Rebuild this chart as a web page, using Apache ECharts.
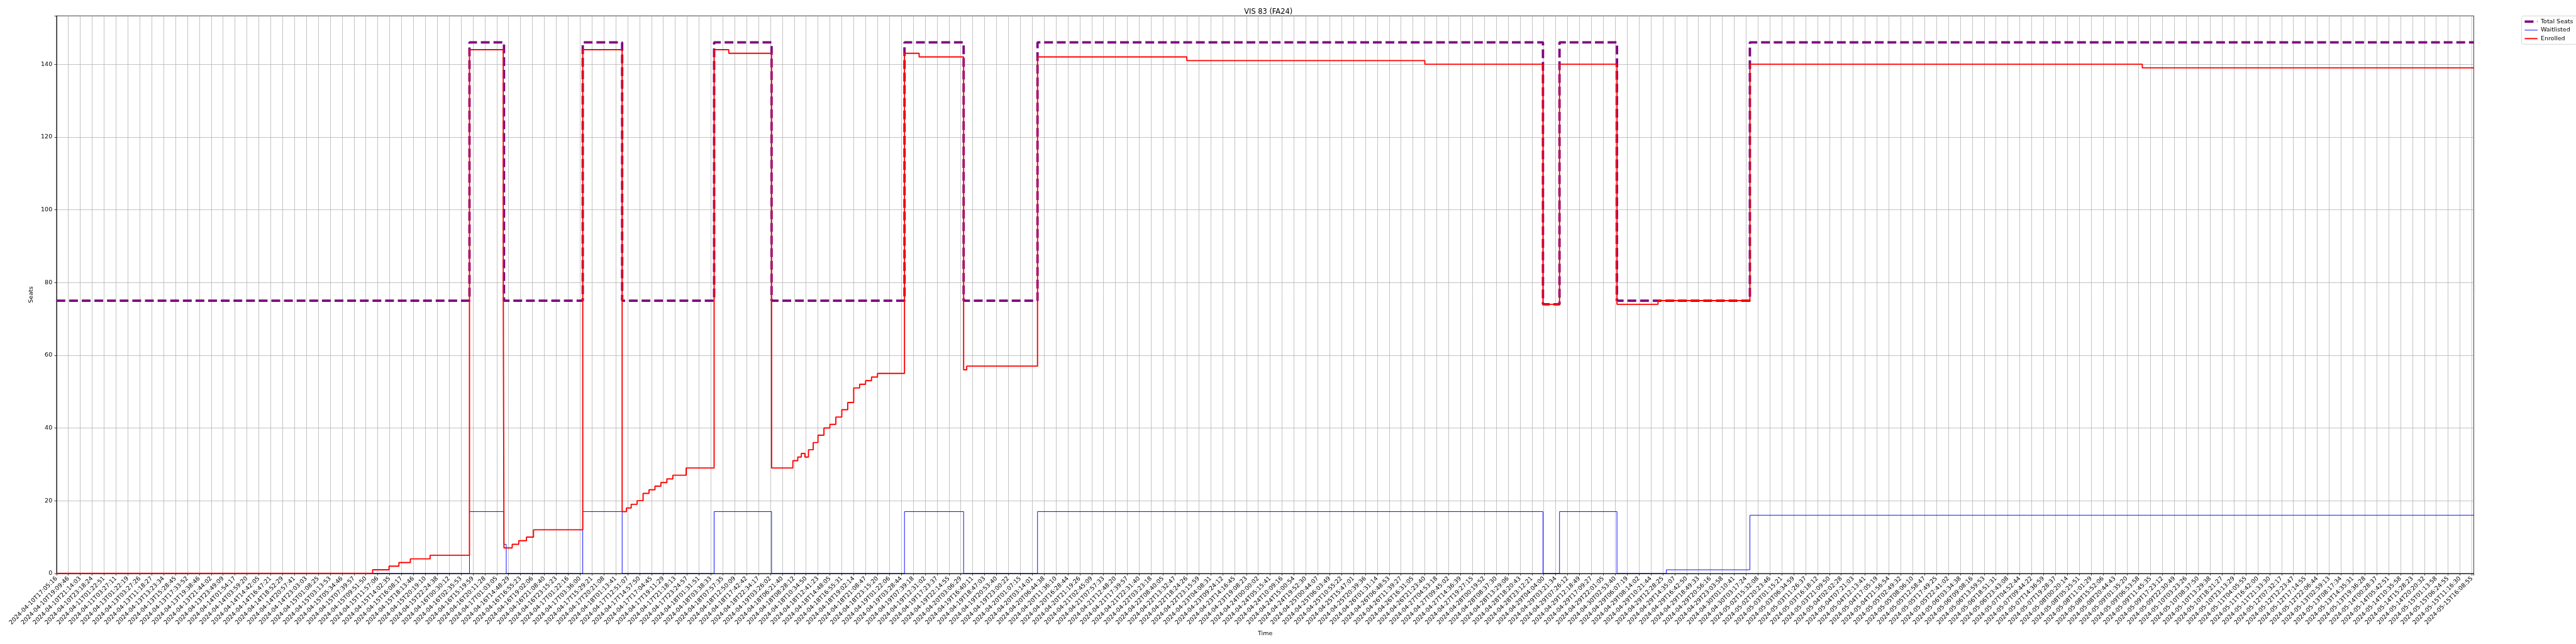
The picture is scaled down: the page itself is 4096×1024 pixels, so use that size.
<!DOCTYPE html>
<html><head><meta charset="utf-8">
<script src="https://cdn.jsdelivr.net/npm/echarts@6/dist/echarts.min.js"></script>
<style>html,body{margin:0;padding:0;background:#fff}#c{width:4096px;height:1024px}</style>
</head><body><div id="c"></div>
<script>
const tickLabels = [
"2024-04-10T17:05:16","2024-04-10T19:09:46","2024-04-10T21:14:03","2024-04-10T23:18:24","2024-04-11T01:22:51","2024-04-11T03:27:11",
"2024-04-13T01:22:19","2024-04-13T03:27:26","2024-04-13T11:18:27","2024-04-13T13:23:34","2024-04-13T15:28:45","2024-04-13T17:33:52",
"2024-04-13T19:38:46","2024-04-13T21:44:02","2024-04-13T23:49:09","2024-04-14T01:54:17","2024-04-14T03:59:20","2024-04-14T14:42:05",
"2024-04-14T16:47:21","2024-04-14T18:52:29","2024-04-14T20:57:41","2024-04-14T23:03:03","2024-04-15T01:08:25","2024-04-15T03:13:53",
"2024-04-15T05:34:46","2024-04-15T07:39:57","2024-04-15T09:51:50","2024-04-15T11:57:06","2024-04-15T14:02:35","2024-04-15T16:08:17",
"2024-04-15T18:13:46","2024-04-15T20:19:10","2024-04-15T22:24:38","2024-04-16T00:30:12","2024-04-16T02:35:53","2024-04-16T15:19:59",
"2024-04-16T20:11:28","2024-04-17T01:03:05","2024-04-16T14:48:29","2024-04-16T16:55:23","2024-04-16T19:02:06","2024-04-16T21:08:40",
"2024-04-16T23:15:23","2024-04-17T01:22:16","2024-04-17T03:36:00","2024-04-17T15:29:21","2024-04-17T20:21:08","2024-04-18T01:13:41",
"2024-04-17T12:51:07","2024-04-17T14:57:50","2024-04-17T17:04:45","2024-04-17T19:11:29","2024-04-17T21:18:13","2024-04-17T23:24:57",
"2024-04-18T01:31:51","2024-04-18T03:38:33","2024-04-18T07:57:35","2024-04-18T12:50:09","2024-04-18T17:42:42","2024-04-18T22:34:17",
"2024-04-19T03:26:02","2024-04-18T06:21:40","2024-04-18T08:28:12","2024-04-18T10:34:50","2024-04-18T12:41:23","2024-04-18T14:48:05",
"2024-04-18T16:55:31","2024-04-18T19:02:14","2024-04-18T21:08:47","2024-04-18T23:15:20","2024-04-19T01:22:06","2024-04-19T03:28:44",
"2024-04-19T07:39:18","2024-04-19T12:31:02","2024-04-19T17:23:37","2024-04-19T22:14:55","2024-04-20T03:06:29","2024-04-19T16:40:11",
"2024-04-19T18:47:03","2024-04-19T20:53:40","2024-04-19T23:00:22","2024-04-20T01:07:15","2024-04-20T03:14:01","2024-04-20T06:44:38",
"2024-04-20T11:36:10","2024-04-20T16:28:44","2024-04-20T21:19:26","2024-04-21T02:45:09","2024-04-21T07:57:33","2024-04-21T12:48:20",
"2024-04-21T17:39:57","2024-04-21T22:31:40","2024-04-22T03:23:18","2024-04-22T08:40:05","2024-04-22T13:32:47","2024-04-22T18:24:26",
"2024-04-22T23:15:59","2024-04-23T04:08:31","2024-04-23T09:24:12","2024-04-23T14:16:45","2024-04-23T19:08:23","2024-04-24T00:00:02",
"2024-04-24T05:15:41","2024-04-24T10:09:16","2024-04-24T15:00:54","2024-04-24T19:52:30","2024-04-25T00:44:07","2024-04-25T06:03:49",
"2024-04-25T10:55:22","2024-04-25T15:47:01","2024-04-25T20:39:36","2024-04-26T01:31:14","2024-04-26T06:48:53","2024-04-26T11:39:27",
"2024-04-26T16:31:05","2024-04-26T21:23:40","2024-04-27T04:53:18","2024-04-27T09:45:02","2024-04-27T14:36:39","2024-04-27T19:27:15",
"2024-04-28T00:19:52","2024-04-28T08:37:30","2024-04-28T13:29:06","2024-04-28T18:20:43","2024-04-28T23:12:21","2024-04-29T04:04:00",
"2024-04-29T03:21:34","2024-04-29T07:26:12","2024-04-29T12:18:49","2024-04-29T17:09:27","2024-04-29T22:01:05","2024-04-30T02:53:40",
"2024-04-29T06:07:19","2024-04-29T08:14:02","2024-04-29T10:21:44","2024-04-29T12:28:25","2024-04-29T14:35:07","2024-04-29T16:42:50",
"2024-04-29T18:49:33","2024-04-29T20:56:16","2024-04-29T23:03:58","2024-04-30T01:10:41","2024-04-30T03:17:24","2024-05-02T15:32:08",
"2024-05-02T20:23:46","2024-05-03T01:15:21","2024-05-03T06:34:59","2024-05-03T11:26:37","2024-05-03T16:18:12","2024-05-03T21:09:50",
"2024-05-04T02:02:28","2024-05-04T07:21:03","2024-05-04T12:13:41","2024-05-04T17:05:19","2024-05-04T21:56:54","2024-05-05T02:49:32",
"2024-05-05T08:06:10","2024-05-05T12:58:47","2024-05-05T17:49:25","2024-05-05T22:41:02","2024-05-06T03:34:38","2024-05-06T09:08:16",
"2024-05-06T13:59:53","2024-05-06T18:51:31","2024-05-06T23:43:08","2024-05-07T04:52:44","2024-05-07T09:44:22","2024-05-07T14:36:59",
"2024-05-07T19:28:37","2024-05-08T00:20:14","2024-05-08T05:25:51","2024-05-08T11:01:29","2024-05-08T15:52:06","2024-05-08T20:44:43",
"2024-05-09T01:35:20","2024-05-09T06:53:58","2024-05-09T11:45:35","2024-05-09T17:23:12","2024-05-09T22:30:49","2024-05-10T03:23:26",
"2024-05-10T08:37:50","2024-05-10T13:29:38","2024-05-10T18:21:27","2024-05-10T23:13:29","2024-05-11T04:05:55","2024-05-11T16:42:00",
"2024-05-11T21:33:30","2024-05-12T07:32:17","2024-05-12T12:23:47","2024-05-12T17:14:55","2024-05-12T22:06:44","2024-05-13T02:59:13",
"2024-05-13T08:17:34","2024-05-13T14:35:31","2024-05-13T19:36:28","2024-05-14T00:28:37","2024-05-14T05:42:51","2024-05-14T10:35:58",
"2024-05-14T15:28:23","2024-05-14T20:20:32","2024-05-15T01:13:58","2024-05-15T06:24:55","2024-05-15T11:16:30","2024-05-15T16:08:55"
];
// [position in tick units, value] change points (value holds until next point)
const totalSeats = [[0,75],[34.71,146],[37.61,75],[44.23,146],[47.54,75],[55.27,146],[60.1,75],[71.27,146],[76.24,75],[82.45,146],[124.93,74],[126.32,146],[131.15,75],[142.32,146],[203.16,146]];
const waitlisted = [[0,0],[34.71,17],[37.6,8],[37.8,0],[44.23,17],[47.54,0],[55.27,17],[60.1,0],[71.27,17],[76.24,0],[82.45,17],[124.93,0],[126.32,17],[131.15,0],[135.3,1],[142.32,16],[203.16,16]];
const enrolled = [[0,0],[26.57,1],[27.95,2],[28.78,3],[29.74,4],[31.4,5],[34.71,144],[37.55,78],[37.61,7],[38.3,8],[38.85,9],[39.5,10],[40.09,12],[44.23,144],[47.54,17],[47.9,18],[48.3,19],[48.8,20],[49.3,22],[49.8,23],[50.3,24],[50.8,25],[51.3,26],[51.8,27],[52.92,29],[55.27,144],[56.5,143],[60.1,29],[61.89,31],[62.3,32],[62.6,33],[62.9,32],[63.2,34],[63.6,36],[64.0,38],[64.5,40],[65.0,41],[65.5,43],[66.0,45],[66.5,47],[67.0,51],[67.5,52],[68.0,53],[68.5,54],[69.0,55],[71.27,143],[72.5,142],[76.24,56],[76.5,57],[82.45,142],[95.0,141],[115.0,140],[124.93,74],[126.32,140],[131.15,74],[134.6,75],[142.32,140],[175.3,139],[203.16,139]];
const yTicks = [0,20,40,60,80,100,120,140];

const FONT = 'DejaVu Sans';
const xMax = 203.16, yMax = 153.3;
const chart = echarts.init(document.getElementById('c'), null, {renderer:'canvas'});
const noSym = {color:'rgba(0,0,0,0)', borderColor:'rgba(0,0,0,0)', borderWidth:0, opacity:0};
chart.setOption({
  animation:false,
  backgroundColor:'#fff',
  textStyle:{fontFamily:FONT},
  title:{text:'VIS 83 (FA24)', left:2011.7, top:9, textAlign:'center',
    textStyle:{fontFamily:FONT, fontSize:11.4, fontWeight:'normal', color:'#000'}},
  legend:{orient:'vertical', left:4009.5, top:25.4, padding:[4,8,4,3], itemGap:3.5,
    itemWidth:20.5, itemHeight:10, borderColor:'#cccccc', borderWidth:0.8, borderRadius:3,
    backgroundColor:'rgba(255,255,255,0.8)',
    itemStyle:noSym,
    textStyle:{fontFamily:FONT, fontSize:9.5, color:'#000'},
    data:[
      {name:'Total Seats', itemStyle:noSym, lineStyle:{color:'#800080', width:3.79, type:[14,6.1]}},
      {name:'Waitlisted', itemStyle:noSym, lineStyle:{color:'#0000ff', width:0.95}},
      {name:'Enrolled', itemStyle:noSym, lineStyle:{color:'#ff0000', width:1.9}}
    ]},
  grid:{left:89.8, right:162.5, top:25.2, bottom:112.2, show:true, borderColor:'#000', borderWidth:0.76, backgroundColor:'transparent'},
  xAxis:{type:'value', min:0, max:xMax, interval:1,
    name:'Time', nameLocation:'middle', nameGap:88,
    nameTextStyle:{fontFamily:FONT, fontSize:9.5, color:'#000'},
    axisLine:{show:true, lineStyle:{color:'#000', width:0.76}},
    axisTick:{show:true, length:3.3, lineStyle:{color:'#000', width:0.76}},
    axisLabel:{show:true, rotate:45, margin:6.6, fontFamily:FONT, fontSize:9.5, color:'#000',
      formatter:function(v){ const i=Math.round(v); return (Math.abs(v-i)<1e-6 && i>=0 && i<tickLabels.length) ? tickLabels[i] : ''; }},
    splitLine:{show:true, showMinLine:false, showMaxLine:false, lineStyle:{color:'#b0b0b0', width:0.76}}},
  yAxis:{type:'value', min:0, max:yMax, interval:20,
    name:'Seats', nameLocation:'middle', nameGap:29, nameRotate:90,
    nameTextStyle:{fontFamily:FONT, fontSize:9.5, color:'#000'},
    axisLine:{show:true, lineStyle:{color:'#000', width:0.76}},
    axisTick:{show:true, length:3.3, lineStyle:{color:'#000', width:0.76}},
    axisLabel:{margin:6.6, fontFamily:FONT, fontSize:9.5, color:'#000',
      formatter:function(v){ return yTicks.indexOf(v)>=0 ? String(v) : ''; }},
    splitLine:{show:true, showMinLine:false, showMaxLine:false, lineStyle:{color:'#b0b0b0', width:0.76}}},
  series:[
    {name:'Total Seats', type:'line', step:'end', data:totalSeats, showSymbol:false, symbol:'none',
      color:'#800080', lineStyle:{color:'#800080', width:3.79, type:[14,6.1]}},
    {name:'Waitlisted', type:'line', step:'end', data:waitlisted, showSymbol:false, symbol:'none',
      color:'#0000ff', lineStyle:{color:'#0000ff', width:0.95}},
    {name:'Enrolled', type:'line', step:'end', data:enrolled, showSymbol:false, symbol:'none',
      color:'#ff0000', lineStyle:{color:'#ff0000', width:1.9}}
  ]
});
</script></body></html>
